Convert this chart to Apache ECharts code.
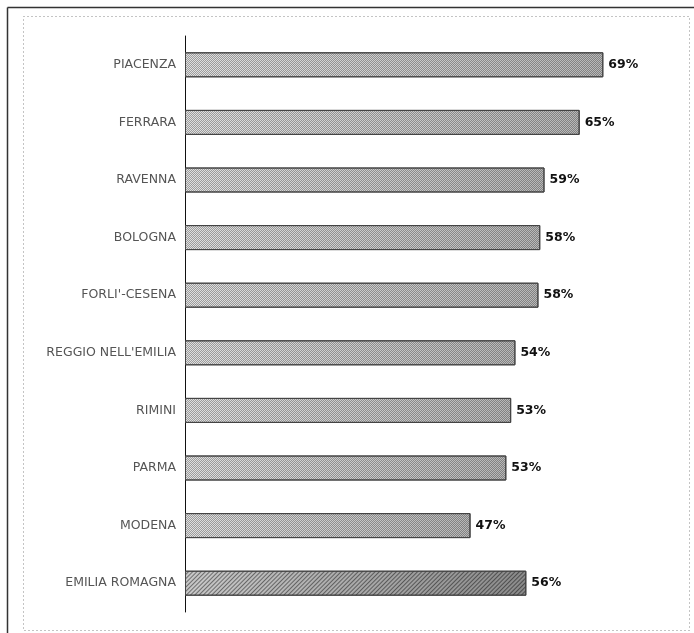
<!DOCTYPE html>
<html>
<head>
<meta charset="utf-8">
<script src="https://cdn.jsdelivr.net/npm/echarts@6/dist/echarts.min.js"></script>
<style>
html,body{margin:0;padding:0;background:#fff;}
#chart{width:694px;height:633px;}
</style>
</head>
<body>
<div id="chart"></div>
<script>
const categories = ['PIACENZA','FERRARA','RAVENNA','BOLOGNA',"FORLI'-CESENA","REGGIO NELL'EMILIA",'RIMINI','PARMA','MODENA','EMILIA ROMAGNA'];
const values = [69.0, 65.1, 59.3, 58.6, 58.3, 54.5, 53.8, 53.0, 47.1, 56.3];
const percentLabels = ['69%','65%','59%','58%','58%','54%','53%','53%','47%','56%'];

const dotDecal = {
  symbol: 'rect', symbolSize: 1,
  dashArrayX: [[1, 1], [0, 1, 1, 0]],
  dashArrayY: [1, 0],
  color: 'rgba(0,0,0,0.3)'
};
const hatchDecal = {
  symbol: 'rect', symbolSize: 1,
  dashArrayX: [1, 0],
  dashArrayY: [1, 2],
  rotation: -Math.PI / 4,
  color: 'rgba(0,0,0,0.45)'
};
function grad(a, b) {
  return new echarts.graphic.LinearGradient(0, 0, 1, 0, [{offset: 0, color: a}, {offset: 1, color: b}]);
}
const seriesData = values.map((v, i) => {
  const total = i === values.length - 1;
  return {
    value: v,
    itemStyle: {
      color: total ? grad('#c8c8c8', '#8a8a8a') : grad('#e0e0e0', '#b8b8b8'),
      borderColor: '#444',
      borderWidth: 1,
      decal: total ? hatchDecal : dotDecal
    }
  };
});

const chart = echarts.init(document.getElementById('chart'), null, {renderer: 'canvas'});
chart.setOption({
  animation: false,
  backgroundColor: '#fff',
  grid: {left: 185, right: 24, top: 36, bottom: 21, containLabel: false},
  xAxis: {
    type: 'value', min: 0, max: 80,
    show: false,
    splitLine: {show: false}
  },
  yAxis: {
    type: 'category',
    inverse: true,
    data: categories,
    axisLine: {show: true, lineStyle: {color: '#111', width: 1}},
    axisTick: {show: false},
    axisLabel: {
      color: '#555', fontSize: 12.5, fontFamily: 'DejaVu Sans', margin: 9
    }
  },
  series: [{
    type: 'bar',
    data: seriesData,
    barWidth: 25,
    label: {
      show: true, position: 'right', distance: 5,
      color: '#111', fontSize: 12.5, fontWeight: 'bold', fontFamily: 'DejaVu Sans',
      formatter: p => percentLabels[p.dataIndex]
    }
  }],
  graphic: [
    {type: 'line', shape: {x1: 7.5, y1: 7.5, x2: 694, y2: 7.5}, style: {stroke: '#333', lineWidth: 1.5}, silent: true},
    {type: 'line', shape: {x1: 7.5, y1: 7.5, x2: 7.5, y2: 633}, style: {stroke: '#333', lineWidth: 1.5}, silent: true},
    {type: 'rect', shape: {x: 23.5, y: 16.5, width: 666, height: 614}, style: {fill: 'none', stroke: '#888', lineWidth: 1, lineDash: [1, 3]}, silent: true}
  ]
});
</script>
</body>
</html>
